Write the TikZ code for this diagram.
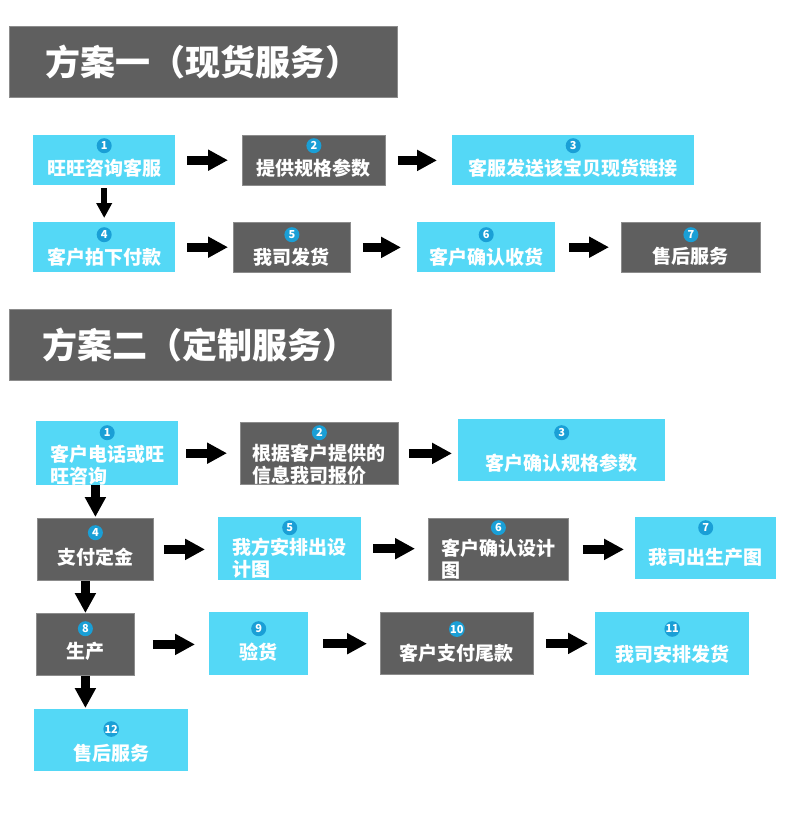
\documentclass[tikz,border=0pt]{standalone}
\usepackage{fontspec}
\setmainfont{Noto Sans CJK SC}
\usepackage{xcolor}
\usepackage{tikz}
\usetikzlibrary{positioning, arrows.meta}

\definecolor{skyfill}{HTML}{54D8F6}
\definecolor{slatefill}{HTML}{5F5F5F}
\definecolor{slateline}{HTML}{8C8C8C}
\definecolor{dotblue}{HTML}{1A9FD6}

\begin{document}
\begin{tikzpicture}[
      x=1pt, y=-1pt,
      box/.style={rectangle, anchor=north west, inner sep=0pt},
      skybox/.style={box, fill=skyfill},
      slatebox/.style={box, fill=slatefill, draw=slateline, line width=0.8pt},
      title/.style={slatebox, text=white, font=\bfseries\fontsize{35}{40}\selectfont},
      numdot/.style={circle, fill=dotblue, text=white, inner sep=0pt, minimum size=15pt, font=\bfseries\fontsize{11}{11}\selectfont},
      steptext/.style={text=white, inner sep=0pt, align=left, font=\bfseries\fontsize{19}{22}\selectfont},
      arrow/.style={-{Triangle[length=20pt, width=20pt]}, line width=9pt, shorten <=12pt, shorten >=12pt},
      smallarrow/.style={-{Triangle[length=15pt, width=15pt]}, line width=6pt}
    ]
      \fill[white] (0,0) rectangle (790,832);
      \useasboundingbox (0,0) rectangle (790,832);

      % plan one
      \node[title, minimum width=388pt, minimum height=71pt] (plan1) at (9,26) {方案一（现货服务）};

      \node[skybox, minimum width=142pt, minimum height=50pt] (a1) at (33,135) {};
      \node[numdot, below=3pt of a1.north] (a1n) {1};
      \node[steptext, below=5pt of a1n] (a1t) {旺旺咨询客服};

      \node[slatebox, minimum width=143pt, minimum height=50pt] (a2) at (242,135) {};
      \node[numdot, below=3pt of a2.north] (a2n) {2};
      \node[steptext, below=5pt of a2n] (a2t) {提供规格参数};

      \node[skybox, minimum width=242pt, minimum height=50pt] (a3) at (452,135) {};
      \node[numdot, below=3pt of a3.north] (a3n) {3};
      \node[steptext, below=5pt of a3n] (a3t) {客服发送该宝贝现货链接};

      \node[skybox, minimum width=142pt, minimum height=50pt] (a4) at (33,222) {};
      \node[numdot, below=5pt of a4.north] (a4n) {4};
      \node[steptext, below=5pt of a4n] (a4t) {客户拍下付款};

      \node[slatebox, minimum width=117pt, minimum height=50pt] (a5) at (233,222) {};
      \node[numdot, below=5pt of a5.north] (a5n) {5};
      \node[steptext, below=5pt of a5n] (a5t) {我司发货};

      \node[skybox, minimum width=138pt, minimum height=50pt] (a6) at (417,222) {};
      \node[numdot, below=5pt of a6.north] (a6n) {6};
      \node[steptext, below=5pt of a6n] (a6t) {客户确认收货};

      \node[slatebox, minimum width=139pt, minimum height=50pt] (a7) at (621,222) {};
      \node[numdot, below=5pt of a7.north] (a7n) {7};
      \node[steptext, below=5pt of a7n] (a7t) {售后服务};

      \draw[arrow, shorten >=14pt] (a1.east) -- (a1.east -| a2.west);
      \draw[arrow, shorten >=15pt] (a2.east) -- (a2.east -| a3.west);
      \draw[smallarrow, shorten <=3pt, shorten >=4pt] (a1) -- (a4);
      \draw[arrow, shorten >=5pt] (a4.east) -- (a4.east -| a5.west);
      \draw[arrow, shorten >=16pt] (a5.east) -- (a5.east -| a6.west);
      \draw[arrow, shorten <=14pt] (a6.east) -- (a6.east -| a7.west);

      % plan two
      \node[title, minimum width=382pt, minimum height=71pt] (plan2) at (9,309) {方案二（定制服务）};

      \node[skybox, minimum width=142pt, minimum height=64pt] (b1) at (36,421) {};
      \node[numdot, below=4pt of b1.north] (b1n) {1};
      \node[steptext, below=4pt of b1n] (b1t) {客户电话或旺\\旺咨询};

      \node[slatebox, minimum width=158pt, minimum height=62pt] (b2) at (240,422) {};
      \node[numdot, below=3pt of b2.north] (b2n) {2};
      \node[steptext, below=3pt of b2n] (b2t) {根据客户提供的\\信息我司报价};

      \node[skybox, minimum width=207pt, minimum height=62pt] (b3) at (458,419) {};
      \node[numdot, below=6pt of b3.north] (b3n) {3};
      \node[steptext, below=13pt of b3n] (b3t) {客户确认规格参数};

      \node[slatebox, minimum width=116pt, minimum height=62pt] (b4) at (37,518) {};
      \node[numdot, below=7pt of b4.north] (b4n) {4};
      \node[steptext, below=7pt of b4n] (b4t) {支付定金};

      \node[skybox, minimum width=143pt, minimum height=63pt] (b5) at (218,517) {};
      \node[numdot, below=3pt of b5.north] (b5n) {5};
      \node[steptext, below=2pt of b5n] (b5t) {我方安排出设\\计图};

      \node[slatebox, minimum width=140pt, minimum height=62pt] (b6) at (428,518) {};
      \node[numdot, below=2pt of b6.north] (b6n) {6};
      \node[steptext, below=3pt of b6n] (b6t) {客户确认设计\\图};

      \node[skybox, minimum width=141pt, minimum height=62pt] (b7) at (635,517) {};
      \node[numdot, below=3pt of b7.north] (b7n) {7};
      \node[steptext, below=13pt of b7n] (b7t) {我司出生产图};

      \node[slatebox, minimum width=98pt, minimum height=62pt] (b8) at (36,613) {};
      \node[numdot, below=8pt of b8.north] (b8n) {8};
      \node[steptext, below=6pt of b8n] (b8t) {生产};

      \node[skybox, minimum width=99pt, minimum height=63pt] (b9) at (209,612) {};
      \node[numdot, below=9pt of b9.north] (b9n) {9};
      \node[steptext, below=6pt of b9n] (b9t) {验货};

      \node[slatebox, minimum width=153pt, minimum height=62pt] (b10) at (380,612) {};
      \node[numdot, below=9pt of b10.north] (b10n) {10};
      \node[steptext, below=7pt of b10n] (b10t) {客户支付尾款};

      \node[skybox, minimum width=154pt, minimum height=63pt] (b11) at (595,612) {};
      \node[numdot, below=9pt of b11.north] (b11n) {11};
      \node[steptext, below=8pt of b11n] (b11t) {我司安排发货};

      \node[skybox, minimum width=154pt, minimum height=62pt] (b12) at (34,709) {};
      \node[numdot, below=12pt of b12.north] (b12n) {12};
      \node[steptext, below=7pt of b12n] (b12t) {售后服务};

      \draw[arrow, shorten <=8pt, shorten >=13pt] (b1.east) -- (b1.east -| b2.west);
      \draw[arrow, shorten <=10pt, shorten >=6pt] (b2.east) -- (b2.east -| b3.west);
      \draw[arrow, shorten <=0pt, shorten >=1pt] (b1.south -| b4) -- (b4.north);
      \draw[arrow, shorten <=10pt, shorten >=13pt] (b4.east) -- (b4.east -| b5.west);
      \draw[arrow, shorten >=13pt] (b5.east) -- (b5.east -| b6.west);
      \draw[arrow, shorten <=14pt, shorten >=11pt] (b6.east) -- (b6.east -| b7.west);
      \draw[arrow, shorten <=0pt, shorten >=0pt] (b4.south -| b8) -- (b8.north);
      \draw[arrow, shorten <=18pt, shorten >=14pt] (b8.east) -- (b8.east -| b9.west);
      \draw[arrow, shorten <=15pt, shorten >=13pt] (b9.east) -- (b9.east -| b10.west);
      \draw[arrow, shorten >=7pt] (b10.east) -- (b10.east -| b11.west);
      \draw[arrow, shorten <=0pt, shorten >=1pt] (b8.south) -- (b8.south |- b12.north);
    \end{tikzpicture}
\end{document}
